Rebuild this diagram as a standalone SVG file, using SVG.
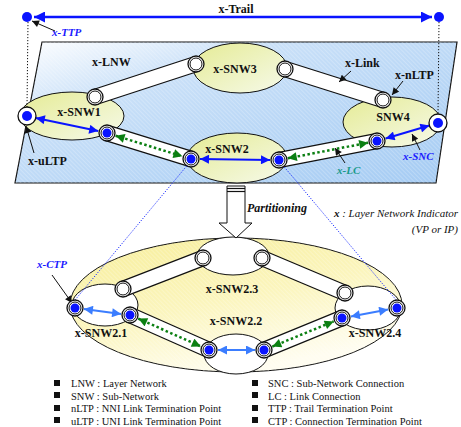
<svg xmlns="http://www.w3.org/2000/svg" width="461" height="427" viewBox="0 0 461 427">
<style>
text{font-family:"Liberation Serif","Times New Roman",serif;fill:#111}
.b{font-weight:bold;font-size:12px}
.bi{font-weight:bold;font-style:italic;font-size:11px}
.lg{font-size:10.5px}
.tube{stroke:#111;stroke-width:16.5;stroke-linecap:butt;fill:none}
.tubei{stroke:#fff;stroke-width:14;stroke-linecap:butt;fill:none}
.snw{fill:url(#gSnw);stroke:#111;stroke-width:1}
.wsn{fill:#fff;stroke:#111;stroke-width:1}
.po{fill:#fff;stroke:#111;stroke-width:1.3}
.pi{fill:none;stroke:#111;stroke-width:1}
.dot{fill:#0a14ff}
.snc{stroke:#0a14ff;stroke-width:2;fill:none;marker-start:url(#aBlue);marker-end:url(#aBlue)}
.sncb{stroke:#3b7dff;stroke-width:2;fill:none;marker-start:url(#aLb);marker-end:url(#aLb)}
.lc{stroke:#0b7f12;stroke-width:2.5;stroke-dasharray:2.5 2.5;fill:none;marker-start:url(#aGr);marker-end:url(#aGr)}
.ptr{stroke:#111;stroke-width:1;fill:none;marker-end:url(#aBk)}
.vd{stroke:#111;stroke-width:1;stroke-dasharray:1.2 1.8;fill:none}
.bd{stroke:#1a2cff;stroke-width:1;stroke-dasharray:1.2 1.5;fill:none}
</style>
<defs>
<linearGradient id="gPlane" x1="0" y1="0" x2="1" y2="1">
<stop offset="0" stop-color="#ffffff"/>
<stop offset="0.3" stop-color="#c9e0f8"/>
<stop offset="1" stop-color="#a4cbf3"/>
</linearGradient>
<linearGradient id="gSnw" x1="0" y1="0" x2="1" y2="1">
<stop offset="0" stop-color="#e5eb95"/>
<stop offset="1" stop-color="#f6faea"/>
</linearGradient>
<linearGradient id="gBig" x1="0" y1="0" x2="0.5" y2="1">
<stop offset="0" stop-color="#f7ee9a"/>
<stop offset="0.55" stop-color="#fbf5bd"/>
<stop offset="1" stop-color="#fffdf0"/>
</linearGradient>
<pattern id="stripes" width="3" height="3" patternUnits="userSpaceOnUse" patternTransform="rotate(45)">
<rect width="3" height="1" fill="#ffffff" fill-opacity="0.22"/>
</pattern>
<marker id="aBlue" viewBox="0 0 10 10" refX="10" refY="5" markerWidth="10" markerHeight="9" markerUnits="userSpaceOnUse" orient="auto-start-reverse"><path d="M0,0 L10,5 L0,10 z" fill="#0a14ff"/></marker>
<marker id="aBig" viewBox="0 0 10 10" refX="10" refY="5" markerWidth="13" markerHeight="11" markerUnits="userSpaceOnUse" orient="auto-start-reverse"><path d="M0,0 L10,5 L0,10 z" fill="#0a14ff"/></marker>
<marker id="aLb" viewBox="0 0 10 10" refX="10" refY="5" markerWidth="10" markerHeight="9" markerUnits="userSpaceOnUse" orient="auto-start-reverse"><path d="M0,0 L10,5 L0,10 z" fill="#3b7dff"/></marker>
<marker id="aGr" viewBox="0 0 10 10" refX="10" refY="5" markerWidth="10" markerHeight="9" markerUnits="userSpaceOnUse" orient="auto-start-reverse"><path d="M0,0 L10,5 L0,10 z" fill="#0b7f12"/></marker>
<marker id="aBk" viewBox="0 0 10 10" refX="10" refY="5" markerWidth="8" markerHeight="7" markerUnits="userSpaceOnUse" orient="auto"><path d="M0,0 L10,5 L0,10 z" fill="#111"/></marker>
</defs>

<!-- Layer network plane -->
<g id="x-LNW">
<polygon points="42,42 457,42 436,183 15,183" fill="url(#gPlane)" stroke="#111" stroke-width="1.2"/>
<polygon points="42,42 457,42 436,183 15,183" fill="url(#stripes)"/>
<text class="b" x="92" y="66">x-LNW</text>
</g>

<!-- Trail -->
<g id="x-Trail">
<line x1="34" y1="17" x2="432" y2="17" stroke="#0a14ff" stroke-width="2.5" marker-start="url(#aBig)" marker-end="url(#aBig)"/>
<text class="b" x="236" y="13" text-anchor="middle">x-Trail</text>
</g>
<g id="ttp-left"><circle class="dot" cx="27" cy="17" r="5"/></g>
<g id="ttp-right"><circle class="dot" cx="439" cy="17" r="5"/></g>

<!-- top sub-networks -->
<g id="x-SNW1"><ellipse class="snw" cx="72" cy="116" rx="52" ry="24"/></g>
<g id="x-SNW3"><ellipse class="snw" cx="240" cy="68" rx="47" ry="25"/></g>
<g id="SNW4"><ellipse class="snw" cx="392" cy="122" rx="49" ry="25"/></g>
<g id="x-SNW2"><ellipse class="snw" cx="237" cy="158" rx="50" ry="25"/></g>

<!-- bottom partitioned network -->
<g id="x-SNW2-part">
<ellipse cx="236" cy="305" rx="166" ry="67" fill="url(#gBig)" stroke="#111" stroke-width="1"/>
<ellipse cx="236" cy="305" rx="166" ry="67" fill="url(#stripes)"/>
</g>
<g id="x-SNW2.1"><ellipse class="wsn" cx="105" cy="305" rx="33" ry="21"/></g>
<g id="x-SNW2.3"><ellipse class="wsn" cx="233" cy="256" rx="36" ry="19"/></g>
<g id="x-SNW2.2"><ellipse class="wsn" cx="236" cy="354" rx="32" ry="20"/></g>
<g id="x-SNW2.4"><ellipse class="wsn" cx="368" cy="308" rx="33" ry="22"/></g>

<!-- connectors -->
<g id="connectors">
<!-- links (tubes) top -->
<path class="tube" d="M95,97 L196,64 M285,69 L383,100 M107,133 L191,159 M279,160 L377,141"/>
<path class="tubei" d="M95,97 L196,64 M285,69 L383,100 M107,133 L191,159 M279,160 L377,141"/>
<!-- links bottom -->
<path class="tube" d="M123,289 L203,258 M262,258 L345,293 M130,315 L209,350 M264,350 L342,318"/>
<path class="tubei" d="M123,289 L203,258 M262,258 L345,293 M130,315 L209,350 M264,350 L342,318"/>
<!-- dotted projection lines -->
<line class="vd" x1="28" y1="22" x2="27" y2="107"/>
<line class="vd" x1="439" y1="22" x2="438" y2="114"/>
<line class="bd" x1="190" y1="162" x2="75" y2="300"/>
<line class="bd" x1="281" y1="163" x2="397" y2="301"/>
<!-- SNCs top -->
<line class="snc" x1="35.8" y1="117.9" x2="98.2" y2="131.1"/>
<line class="snc" x1="200" y1="159.1" x2="270" y2="159.9"/>
<line class="snc" x1="385.6" y1="138.5" x2="429.4" y2="125.5"/>
<!-- LCs top -->
<line class="lc" x1="115.6" y1="135.7" x2="182.4" y2="156.3"/>
<line class="lc" x1="287.8" y1="158.3" x2="368.2" y2="142.7"/>
<!-- SNCs bottom -->
<line class="sncb" x1="83.9" y1="309.1" x2="121.1" y2="313.9"/>
<line class="sncb" x1="218" y1="350" x2="255" y2="350"/>
<line class="sncb" x1="350.9" y1="316.4" x2="388.1" y2="309.6"/>
<!-- LCs bottom -->
<line class="lc" x1="138.2" y1="318.6" x2="200.8" y2="346.4"/>
<line class="lc" x1="272.3" y1="346.6" x2="333.7" y2="321.4"/>
<!-- label pointers -->
<line class="ptr" x1="55" y1="31" x2="32" y2="21"/>
<line class="ptr" x1="351" y1="71" x2="339" y2="82"/>
<line class="ptr" x1="403" y1="81" x2="392" y2="95"/>
<line class="ptr" x1="34" y1="153" x2="26" y2="126"/>
<line class="ptr" x1="420" y1="150" x2="412" y2="134"/>
<line class="ptr" x1="345" y1="163" x2="335" y2="148"/>
<line class="ptr" x1="52" y1="275" x2="72" y2="303"/>
</g>

<!-- ports top -->
<g id="nltp-1"><circle class="po" cx="95" cy="97" r="8"/><circle class="pi" cx="95" cy="97" r="6"/></g>
<g id="nltp-2"><circle class="po" cx="196" cy="64" r="8"/><circle class="pi" cx="196" cy="64" r="6"/></g>
<g id="nltp-3"><circle class="po" cx="285" cy="69" r="8"/><circle class="pi" cx="285" cy="69" r="6"/></g>
<g id="nltp-4"><circle class="po" cx="383" cy="100" r="8"/><circle class="pi" cx="383" cy="100" r="6"/></g>
<g id="nltp-5"><circle class="po" cx="107" cy="133" r="8"/><circle class="pi" cx="107" cy="133" r="6"/><circle class="dot" cx="107" cy="133" r="4.5"/></g>
<g id="nltp-6"><circle class="po" cx="191" cy="159" r="8"/><circle class="pi" cx="191" cy="159" r="6"/><circle class="dot" cx="191" cy="159" r="4.5"/></g>
<g id="nltp-7"><circle class="po" cx="279" cy="160" r="8"/><circle class="pi" cx="279" cy="160" r="6"/><circle class="dot" cx="279" cy="160" r="4.5"/></g>
<g id="nltp-8"><circle class="po" cx="377" cy="141" r="8"/><circle class="pi" cx="377" cy="141" r="6"/><circle class="dot" cx="377" cy="141" r="4.5"/></g>
<g id="x-uLTP-left"><circle class="po" cx="27" cy="116" r="9"/><circle class="dot" cx="27" cy="116" r="5"/></g>
<g id="x-uLTP-right"><circle class="po" cx="438" cy="123" r="9"/><circle class="dot" cx="438" cy="123" r="5"/></g>

<!-- ports bottom -->
<g id="ctp-1"><circle class="po" cx="123" cy="289" r="8"/><circle class="pi" cx="123" cy="289" r="6"/></g>
<g id="ctp-2"><circle class="po" cx="203" cy="258" r="8"/><circle class="pi" cx="203" cy="258" r="6"/></g>
<g id="ctp-3"><circle class="po" cx="262" cy="258" r="8"/><circle class="pi" cx="262" cy="258" r="6"/></g>
<g id="ctp-4"><circle class="po" cx="345" cy="293" r="8"/><circle class="pi" cx="345" cy="293" r="6"/></g>
<g id="ctp-5"><circle class="po" cx="130" cy="315" r="8"/><circle class="pi" cx="130" cy="315" r="6"/><circle class="dot" cx="130" cy="315" r="4.5"/></g>
<g id="ctp-6"><circle class="po" cx="209" cy="350" r="8"/><circle class="pi" cx="209" cy="350" r="6"/><circle class="dot" cx="209" cy="350" r="4.5"/></g>
<g id="ctp-7"><circle class="po" cx="264" cy="350" r="8"/><circle class="pi" cx="264" cy="350" r="6"/><circle class="dot" cx="264" cy="350" r="4.5"/></g>
<g id="ctp-8"><circle class="po" cx="342" cy="318" r="8"/><circle class="pi" cx="342" cy="318" r="6"/><circle class="dot" cx="342" cy="318" r="4.5"/></g>
<g id="x-CTP-left"><circle class="po" cx="75" cy="308" r="8"/><circle class="pi" cx="75" cy="308" r="6"/><circle class="dot" cx="75" cy="308" r="4.5"/></g>
<g id="x-CTP-right"><circle class="po" cx="397" cy="308" r="8"/><circle class="pi" cx="397" cy="308" r="6"/><circle class="dot" cx="397" cy="308" r="4.5"/></g>

<!-- partitioning arrow -->
<g id="partitioning">
<polygon points="227,186 245,186 245,223 252,223 236,238 219,223 227,223" fill="#fff" stroke="#111" stroke-width="1"/>
<line x1="227" y1="188.5" x2="245" y2="188.5" stroke="#111" stroke-width="1.2"/>
<line x1="227" y1="191.5" x2="245" y2="191.5" stroke="#111" stroke-width="1.2"/>
<text class="bi" style="font-size:12px" x="247" y="212">Partitioning</text>
</g>

<!-- labels -->
<g id="labels">
<text class="bi" x="52" y="36" style="fill:#1a1aff">x-TTP</text>
<text class="b" x="79" y="116" text-anchor="middle">x-SNW1</text>
<text class="b" x="235" y="73" text-anchor="middle">x-SNW3</text>
<text class="b" x="393" y="121" text-anchor="middle">SNW4</text>
<text class="b" x="227" y="153" text-anchor="middle">x-SNW2</text>
<text class="b" x="345" y="67">x-Link</text>
<text class="b" x="395" y="79">x-nLTP</text>
<text class="b" x="28" y="165">x-uLTP</text>
<text class="bi" x="403" y="160" style="fill:#1a1aff">x-SNC</text>
<text class="bi" x="337" y="174" style="fill:#1a9a8a">x-LC</text>
<text x="458" y="217" text-anchor="end" style="font-style:italic;font-size:11px"><tspan font-weight="bold">x</tspan> : Layer Network Indicator</text>
<text x="458" y="233" text-anchor="end" style="font-style:italic;font-size:11px">(VP or IP)</text>
<text class="bi" x="37" y="268" style="fill:#1a1aff">x-CTP</text>
<text class="b" x="232" y="293" text-anchor="middle">x-SNW2.3</text>
<text class="b" x="236" y="325" text-anchor="middle">x-SNW2.2</text>
<text class="b" x="101" y="337" text-anchor="middle">x-SNW2.1</text>
<text class="b" x="375" y="337" text-anchor="middle">x-SNW2.4</text>
</g>

<!-- legend -->
<g id="legend">
<rect x="54" y="380" width="6" height="6" fill="#111"/>
<rect x="54" y="392" width="6" height="6" fill="#111"/>
<rect x="54" y="405" width="6" height="6" fill="#111"/>
<rect x="54" y="417" width="6" height="6" fill="#111"/>
<rect x="252" y="380" width="6" height="6" fill="#111"/>
<rect x="252" y="392" width="6" height="6" fill="#111"/>
<rect x="252" y="405" width="6" height="6" fill="#111"/>
<rect x="252" y="417" width="6" height="6" fill="#111"/>
<text class="lg" x="71" y="387">LNW : Layer Network</text>
<text class="lg" x="71" y="400">SNW : Sub-Network</text>
<text class="lg" x="71" y="412">nLTP : NNI Link Termination Point</text>
<text class="lg" x="71" y="425">uLTP : UNI Link Termination Point</text>
<text class="lg" x="268" y="387">SNC : Sub-Network Connection</text>
<text class="lg" x="268" y="400">LC : Link Connection</text>
<text class="lg" x="268" y="412">TTP : Trail Termination Point</text>
<text class="lg" x="268" y="425">CTP : Connection Termination Point</text>
</g>
</svg>
